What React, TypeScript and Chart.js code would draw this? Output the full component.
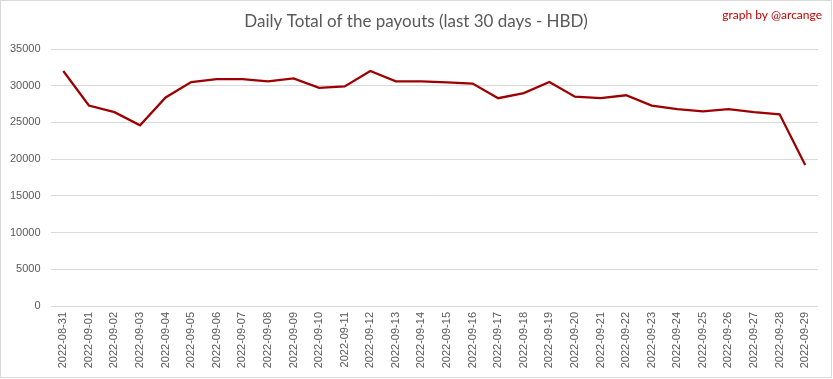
import React, { useEffect, useRef } from "react";
import { Chart, registerables } from "chart.js";

Chart.register(...registerables);

const categories = [
  "2022-08-31", "2022-09-01", "2022-09-02", "2022-09-03", "2022-09-04", "2022-09-05",
  "2022-09-06", "2022-09-07", "2022-09-08", "2022-09-09", "2022-09-10", "2022-09-11",
  "2022-09-12", "2022-09-13", "2022-09-14", "2022-09-15", "2022-09-16", "2022-09-17",
  "2022-09-18", "2022-09-19", "2022-09-20", "2022-09-21", "2022-09-22", "2022-09-23",
  "2022-09-24", "2022-09-25", "2022-09-26", "2022-09-27", "2022-09-28", "2022-09-29",
];

const payouts = [
  32000, 27300, 26400, 24600, 28400, 30500,
  30900, 30900, 30600, 31000, 29700, 29900,
  32000, 30600, 30600, 30450, 30300, 28300,
  29000, 30500, 28500, 28300, 28700, 27300,
  26800, 26500, 26800, 26400, 26100, 19200,
];

const yTicks = [0, 5000, 10000, 15000, 20000, 25000, 30000, 35000];

const titleText = "Daily Total of the payouts (last 30 days - HBD)";
const watermarkText = "graph by @arcange";

export default function App() {
  const ref = useRef<HTMLCanvasElement | null>(null);

  useEffect(() => {
    if (!ref.current) return;
    const decor = {
      id: "decor",
      beforeDraw(chart: any) {
        const ctx = chart.ctx;
        ctx.save();
        ctx.fillStyle = "#ffffff";
        ctx.fillRect(0, 0, chart.width, chart.height);
        ctx.strokeStyle = "#d9d9d9";
        ctx.lineWidth = 1;
        ctx.strokeRect(0.5, 0.5, chart.width - 2, chart.height - 2);
        ctx.restore();
      },
      afterDraw(chart: any) {
        const ctx = chart.ctx;
        ctx.save();
        ctx.fillStyle = "#595959";
        ctx.font = "17px Lato";
        ctx.textAlign = "center";
        ctx.textBaseline = "middle";
        ctx.fillText(titleText, 416, 22);
        ctx.fillStyle = "#c00000";
        ctx.font = "12px Lato";
        ctx.textAlign = "right";
        ctx.fillText(watermarkText, 822, 15);
        ctx.restore();
      },
    };
    const chart = new Chart(ref.current, {
      type: "line",
      data: {
        labels: categories,
        datasets: [
          {
            data: payouts,
            borderColor: "#9c0000",
            borderWidth: 2.25,
            pointRadius: 0,
            tension: 0,
            fill: false,
          },
        ],
      },
      options: {
        responsive: false,
        animation: false,
        layout: { padding: { top: 49, right: 15, left: 0, bottom: 0 } },
        plugins: {
          legend: { display: false },
          title: { display: false },
          tooltip: { enabled: false },
        },
        scales: {
          x: {
            offset: true,
            grid: { display: false, drawTicks: false },
            border: { display: false },
            ticks: {
              autoSkip: false,
              minRotation: 90,
              maxRotation: 90,
              padding: 6,
              color: "#595959",
              font: { family: "Liberation Sans", size: 11 },
            },
            afterFit(scale: any) {
              scale.height = 379 - 306;
            },
          },
          y: {
            min: 0,
            max: 35000,
            afterBuildTicks(scale: any) {
              scale.ticks = yTicks.map((v) => ({ value: v }));
            },
            grid: { color: "#d9d9d9", drawTicks: false, lineWidth: 1 },
            border: { display: false },
            ticks: {
              padding: 10,
              color: "#595959",
              font: { family: "Liberation Sans", size: 11 },
              callback: (v: any) => String(v),
            },
            afterFit(scale: any) {
              scale.width = 50.5;
            },
          },
        },
      },
      plugins: [decor],
    });
    return () => chart.destroy();
  }, []);

  return (
    <div style={{ position: "fixed", left: 0, top: 0, width: 833, height: 379 }}>
      <canvas ref={ref} width={833} height={379} />
    </div>
  );
}
